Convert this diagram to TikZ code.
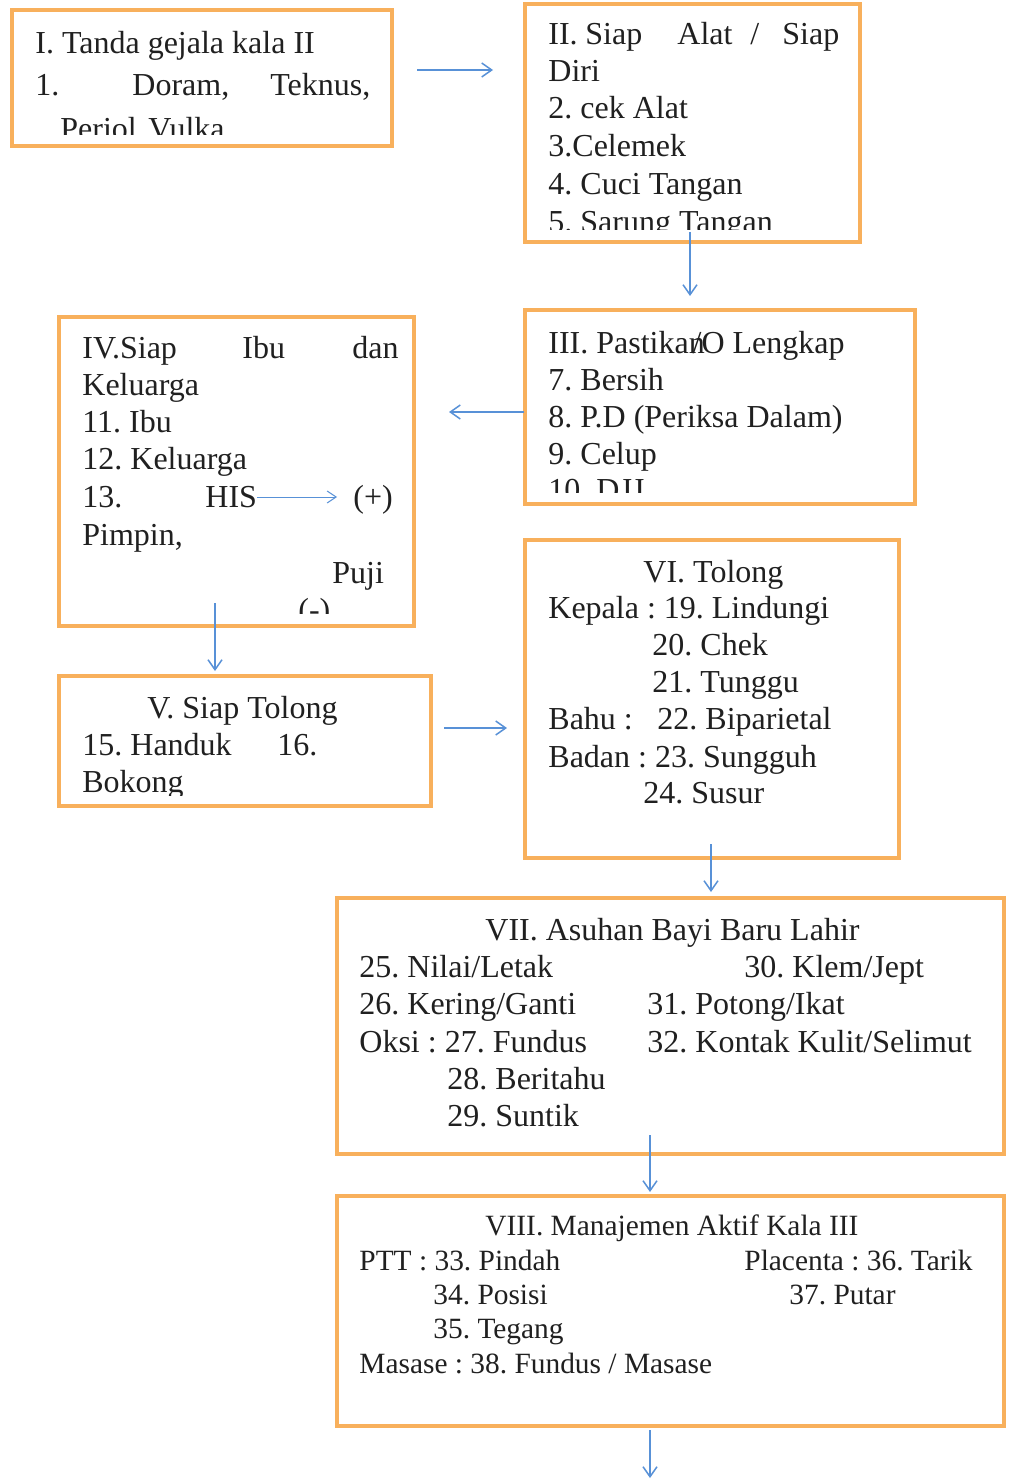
\documentclass[tikz,border=0pt]{standalone}
\usepackage{fontspec}
\setmainfont{Liberation Serif}
\usetikzlibrary{arrows.meta,fit}
\definecolor{boxorange}{RGB}{248,176,92}
\definecolor{arrblue}{RGB}{88,145,215}
\definecolor{txtgray}{RGB}{32,32,32}
\frenchspacing
\begin{document}
\frenchspacing
\begin{tikzpicture}[x=0.5pt,y=-0.5pt,
  box/.style={draw=boxorange, line width=2pt, inner sep=0pt},
  txt/.style={anchor=base west, inner sep=0pt, font=\fontsize{16}{19}\selectfont\frenchspacing, text=txtgray},
  txts/.style={txt, font=\fontsize{14.7}{17}\selectfont\frenchspacing},
  arr/.style={draw=arrblue, line width=0.75pt, -{Straight Barb[length=5pt,width=7pt]}},
  arrthin/.style={draw=arrblue, line width=0.5pt, -{Straight Barb[length=4.5pt,width=6pt]}}]
\useasboundingbox (0,0) rectangle (1009,1481);
\fill[white] (0,0) rectangle (1009,1481);

% ---------- boxes ----------
\node[box, fit={(12,10) (392,146)}] (b1) {};
\node[box, fit={(525,4) (860,242)}] (b2) {};
\node[box, fit={(525,310) (915,504)}] (b3) {};
\node[box, fit={(59,317) (414,626)}] (b4) {};
\node[box, fit={(59,676) (431,806)}] (b5) {};
\node[box, fit={(525,540) (899,858)}] (b6) {};
\node[box, fit={(337,898) (1004,1154)}] (b7) {};
\node[box, fit={(337,1196) (1004,1426)}] (b8) {};

% ---------- box I ----------
\begin{scope}
\clip (14,12) rectangle (390,135);
\node[txt] (t1a) at (35,54) {I. Tanda gejala kala II};
\node[txt] (t1b) at (35,96) {1.};
\node[txt] (t1c) at (132,96) {Doram,};
\node[txt] (t1d) at (270,96) {Teknus,};
\node[txt] (t1e) at (60,140) {Periol};
\node[txt] (t1f) at (148,140) {Vulka};
\end{scope}

% ---------- box II ----------
\begin{scope}
\clip (527,6) rectangle (858,230);
\node[txt] (t2a) at (548,45) {II.};
\node[txt] (t2b) at (585,45) {Siap};
\node[txt] (t2c) at (677,45) {Alat};
\node[txt] (t2d) at (750,45) {/};
\node[txt] (t2e) at (782,45) {Siap};
\node[txt] (t2f) at (548,82) {Diri};
\node[txt] (t2g) at (548,119) {2. cek Alat};
\node[txt] (t2h) at (548,157) {3.Celemek};
\node[txt] (t2i) at (548,195) {4. Cuci Tangan};
\node[txt] (t2j) at (548,233) {5. Sarung Tangan};
\end{scope}

% ---------- box III ----------
\begin{scope}
\clip (527,312) rectangle (913,492);
\node[txt] (t3a) at (548,353) {III. Pastika\rlap{n}\kern0.12em/O Lengkap};
\node[txt] (t3b) at (548,390) {7. Bersih};
\node[txt] (t3c) at (548,427) {8. P.D (Periksa Dalam)};
\node[txt] (t3d) at (548,464) {9. Celup};
\node[txt] (t3e) at (548,500) {10. DJJ};
\end{scope}

% ---------- box IV ----------
\begin{scope}
\clip (61,319) rectangle (412,613);
\node[txt] (t4a) at (82,358) {IV.Siap};
\node[txt] (t4b) at (242,358) {Ibu};
\node[txt] (t4c) at (352,358) {dan};
\node[txt] (t4d) at (82,395) {Keluarga};
\node[txt] (t4e) at (82,432) {11. Ibu};
\node[txt] (t4f) at (82,469) {12. Keluarga};
\node[txt] (t4g) at (82,507) {13.};
\node[txt] (t4h) at (205,507) {HIS};
\node[txt] (t4i) at (353,507) {(+)};
\node[txt] (t4j) at (82,545) {Pimpin,};
\node[txt] (t4k) at (332,583) {Puji};
\node[txt] (t4l) at (298,620) {(-)};
\end{scope}

% ---------- box V ----------
\begin{scope}
\clip (61,678) rectangle (429,795);
\node[txt] (t5a) at (147,718) {V. Siap Tolong};
\node[txt] (t5b) at (82,755) {15. Handuk};
\node[txt] (t5c) at (277,755) {16.};
\node[txt] (t5d) at (82,792) {Bokong};
\end{scope}

% ---------- box VI ----------
\node[txt] (t6a) at (643,582) {VI. Tolong};
\node[txt] (t6b) at (548,618) {Kepala : 19. Lindungi};
\node[txt] (t6c) at (652,655) {20. Chek};
\node[txt] (t6d) at (652,692) {21. Tunggu};
\node[txt] (t6e) at (548,729) {Bahu :};
\node[txt] (t6f) at (657,729) {22. Biparietal};
\node[txt] (t6g) at (548,767) {Badan : 23. Sungguh};
\node[txt] (t6h) at (643,803) {24. Susur};

% ---------- box VII ----------
\node[txt] (t7a) at (485,940) {VII. Asuhan Bayi Baru Lahir};
\node[txt] (t7b) at (359,977) {25. Nilai/Letak};
\node[txt] (t7c) at (744,977) {30. Klem/Jept};
\node[txt] (t7d) at (359,1014) {26. Kering/Ganti};
\node[txt] (t7e) at (647,1014) {31. Potong/Ikat};
\node[txt] (t7f) at (359,1052) {Oksi : 27. Fundus};
\node[txt] (t7g) at (647,1052) {32. Kontak Kulit/Selimut};
\node[txt] (t7h) at (447,1089) {28. Beritahu};
\node[txt] (t7i) at (447,1126) {29. Suntik};

% ---------- box VIII ----------
\node[txts] (t8a) at (485,1235) {VIII. Manajemen Aktif Kala III};
\node[txts] (t8b) at (359,1270) {PTT : 33. Pindah};
\node[txts] (t8c) at (744,1270) {Placenta : 36. Tarik};
\node[txts] (t8d) at (433,1304) {34. Posisi};
\node[txts] (t8e) at (789,1304) {37. Putar};
\node[txts] (t8f) at (433,1338) {35. Tegang};
\node[txts] (t8g) at (359,1373) {Masase : 38. Fundus / Masase};

% ---------- connectors ----------
\coordinate (a1s) at (417,70);   \coordinate (a1e) at (493,70);
\coordinate (a2s) at (690,232);  \coordinate (a2e) at (690,296);
\coordinate (a3s) at (524,412);  \coordinate (a3e) at (449,412);
\coordinate (a4s) at (257,497);  \coordinate (a4e) at (337,497);
\coordinate (a5s) at (215,603);  \coordinate (a5e) at (215,671);
\coordinate (a6s) at (444,728);  \coordinate (a6e) at (507,728);
\coordinate (a7s) at (711,844);  \coordinate (a7e) at (711,892);
\coordinate (a8s) at (650,1135); \coordinate (a8e) at (650,1192);
\coordinate (a9s) at (650,1430); \coordinate (a9e) at (650,1478);

\draw[arr] (a1s) -- (a1e);
\draw[arr] (a2s) -- (a2e);
\draw[arr] (a3s) -- (a3e);
\draw[arrthin] (a4s) -- (a4e);
\draw[arr] (a5s) -- (a5e);
\draw[arr] (a6s) -- (a6e);
\draw[arr] (a7s) -- (a7e);
\draw[arr] (a8s) -- (a8e);
\draw[arr] (a9s) -- (a9e);
\end{tikzpicture}
\end{document}
